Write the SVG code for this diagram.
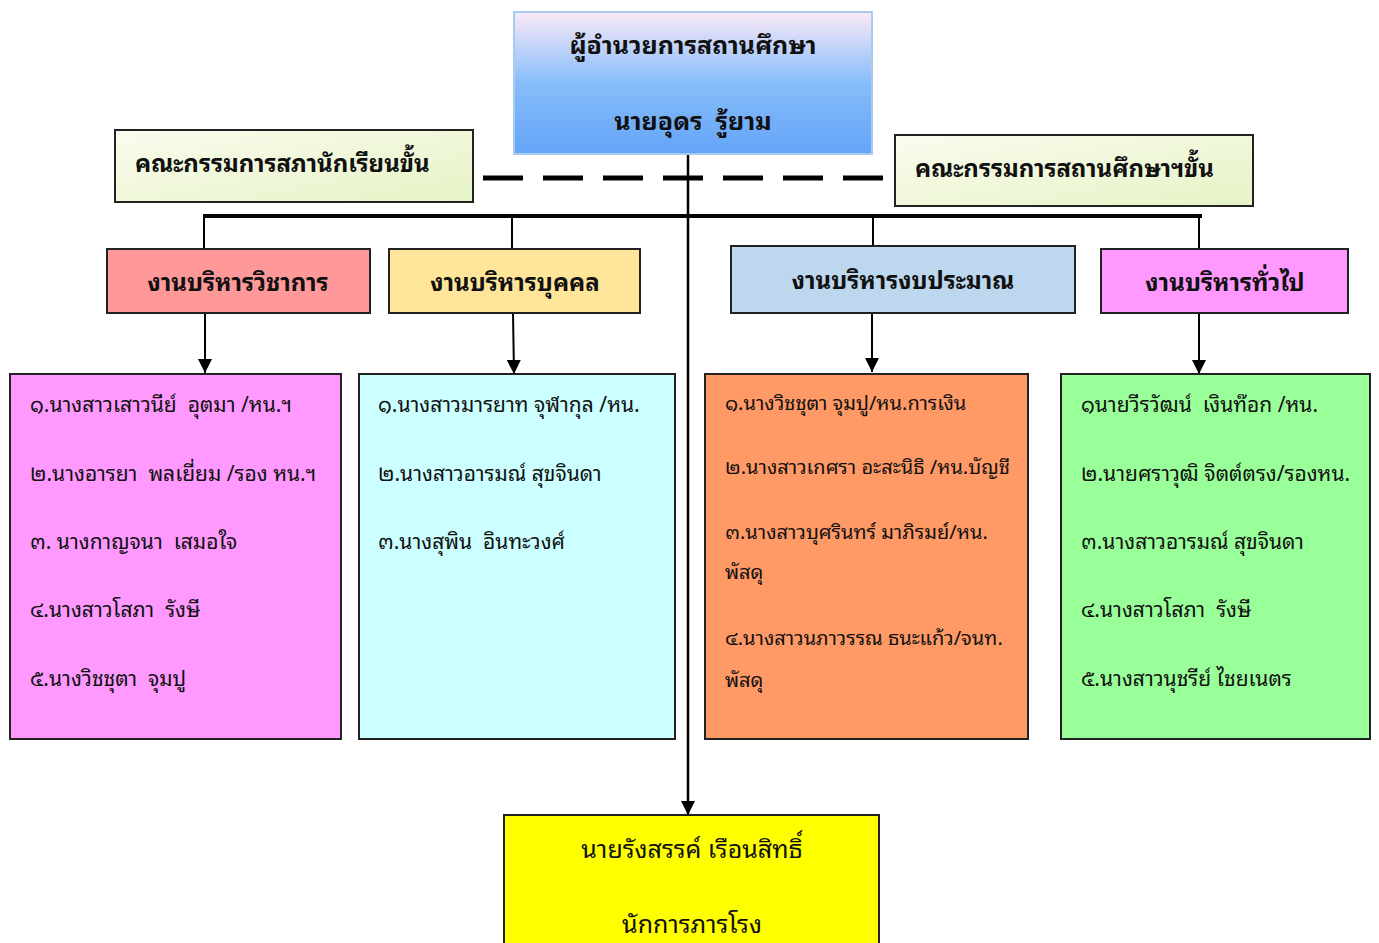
<svg xmlns="http://www.w3.org/2000/svg" width="1379" height="943" viewBox="0 0 1379 943">
<defs>
<linearGradient id="gTop" x1="0" y1="0" x2="0" y2="1">
<stop offset="0" stop-color="#fbe9f7"/>
<stop offset="0.5" stop-color="#86bdfa"/>
<stop offset="1" stop-color="#64a4f8"/>
</linearGradient>
<linearGradient id="gCom" x1="0" y1="0" x2="1" y2="1">
<stop offset="0" stop-color="#fafcee"/>
<stop offset="1" stop-color="#e6f3c6"/>
</linearGradient>
<marker id="arrB" viewBox="0 0 10 10" refX="10" refY="5" markerWidth="16" markerHeight="14" markerUnits="userSpaceOnUse" orient="auto">
<path d="M0,0 L10,5 L0,10 z" fill="#000"/>
</marker>
</defs>
<style>
text{font-family:"Noto Sans Thai Looped","Noto Sans Thai","Noto Sans","DejaVu Sans",sans-serif;fill:#111;white-space:pre;}
.box{stroke:#222;stroke-width:2;}
.hd{font-size:24px;font-weight:bold;text-anchor:middle;}
.tp{font-size:25px;font-weight:bold;text-anchor:middle;}
.cm{font-size:24px;font-weight:bold;}
.mb{font-size:21px;}
.mb3{font-size:20px;}
.bt{font-size:25px;text-anchor:middle;}
.ln{stroke:#000;fill:none;}
</style>
<rect width="1379" height="943" fill="#fff"/>
<g id="connectors">
<line class="ln" x1="483" y1="178" x2="885" y2="178" stroke-width="5" stroke-dasharray="40 20"/>
<line class="ln" x1="203" y1="216" x2="1202" y2="216" stroke-width="4"/>
<line class="ln" x1="204" y1="216" x2="204" y2="249" stroke-width="2"/>
<line class="ln" x1="512" y1="216" x2="512" y2="249" stroke-width="2"/>
<line class="ln" x1="873" y1="216" x2="873" y2="246" stroke-width="2"/>
<line class="ln" x1="1199" y1="216" x2="1199" y2="249" stroke-width="2"/>
<line class="ln" x1="205" y1="313" x2="205" y2="373" stroke-width="2" marker-end="url(#arrB)"/>
<line class="ln" x1="513" y1="313" x2="514" y2="374" stroke-width="2" marker-end="url(#arrB)"/>
<line class="ln" x1="872" y1="313" x2="872" y2="372" stroke-width="2" marker-end="url(#arrB)"/>
<line class="ln" x1="1199" y1="313" x2="1199" y2="374" stroke-width="2" marker-end="url(#arrB)"/>
<line class="ln" x1="688" y1="154" x2="688" y2="815" stroke-width="2.5" marker-end="url(#arrB)"/>
</g>
<g id="director">
<rect x="514" y="12" width="358" height="142" fill="url(#gTop)" stroke="#a9cbf0" stroke-width="2"/>
<text class="tp" x="693" y="54">ผู้อำนวยการสถานศึกษา</text>
<text class="tp" x="693" y="130">นายอุดร  รู้ยาม</text>
</g>
<g id="student-council">
<rect class="box" x="115" y="130" width="358" height="72" fill="url(#gCom)" stroke-width="1.5"/>
<text class="cm" x="135" y="172">คณะกรรมการสภานักเรียนขั้น</text>
</g>
<g id="school-board">
<rect class="box" x="895" y="135" width="358" height="71" fill="url(#gCom)" stroke-width="1.5"/>
<text class="cm" x="915" y="177">คณะกรรมการสถานศึกษาฯขั้น</text>
</g>
<g id="h1">
<rect class="box" x="107" y="249" width="263" height="64" fill="#ff9999"/>
<text class="hd" x="238" y="291">งานบริหารวิชาการ</text>
</g>
<g id="h2">
<rect class="box" x="389" y="249" width="251" height="64" fill="#ffe599"/>
<text class="hd" x="515" y="291">งานบริหารบุคคล</text>
</g>
<g id="h3">
<rect class="box" x="731" y="246" width="344" height="67" fill="#bdd7ee"/>
<text class="hd" x="903" y="289">งานบริหารงบประมาณ</text>
</g>
<g id="h4">
<rect class="box" x="1101" y="249" width="247" height="64" fill="#ff99ff"/>
<text class="hd" x="1225" y="291">งานบริหารทั่วไป</text>
</g>
<g id="m1">
<rect class="box" x="10" y="374" width="331" height="365" fill="#ff99ff"/>
<text class="mb" x="30" y="412">๑.นางสาวเสาวนีย์  อุตมา /หน.ฯ</text>
<text class="mb" x="30" y="481">๒.นางอารยา  พลเยี่ยม /รอง หน.ฯ</text>
<text class="mb" x="30" y="549">๓. นางกาญจนา  เสมอใจ</text>
<text class="mb" x="30" y="617">๔.นางสาวโสภา  รังษี</text>
<text class="mb" x="30" y="686">๕.นางวิชชุตา  จุมปู</text>
</g>
<g id="m2">
<rect class="box" x="359" y="374" width="316" height="365" fill="#ccffff"/>
<text class="mb" x="378" y="412">๑.นางสาวมารยาท จุฬากุล /หน.</text>
<text class="mb" x="378" y="481">๒.นางสาวอารมณ์ สุขจินดา</text>
<text class="mb" x="378" y="549">๓.นางสุพิน  อินทะวงศ์</text>
</g>
<g id="m3">
<rect class="box" x="705" y="374" width="323" height="365" fill="#ff9966"/>
<text class="mb3" x="725" y="410">๑.นางวิชชุตา จุมปู/หน.การเงิน</text>
<text class="mb3" x="725" y="474">๒.นางสาวเกศรา อะสะนิธิ /หน.บัญชี</text>
<text class="mb3" x="725" y="539">๓.นางสาวบุศรินทร์ มาภิรมย์/หน.</text>
<text class="mb3" x="725" y="579">พัสดุ</text>
<text class="mb3" x="725" y="645">๔.นางสาวนภาวรรณ ธนะแก้ว/จนท.</text>
<text class="mb3" x="725" y="687">พัสดุ</text>
</g>
<g id="m4">
<rect class="box" x="1061" y="374" width="309" height="365" fill="#99ff99"/>
<text class="mb" x="1081" y="412">๑นายวีรวัฒน์  เงินท๊อก /หน.</text>
<text class="mb" x="1081" y="481">๒.นายศราวุฒิ จิตต์ตรง/รองหน.</text>
<text class="mb" x="1081" y="549">๓.นางสาวอารมณ์ สุขจินดา</text>
<text class="mb" x="1081" y="617">๔.นางสาวโสภา  รังษี</text>
<text class="mb" x="1081" y="686">๕.นางสาวนุชรีย์ ไชยเนตร</text>
</g>
<g id="janitor">
<rect class="box" x="504" y="815" width="375" height="140" fill="#ffff00"/>
<text class="bt" x="692" y="858">นายรังสรรค์ เรือนสิทธิ์</text>
<text class="bt" x="692" y="933">นักการภารโรง</text>
</g>
</svg>
